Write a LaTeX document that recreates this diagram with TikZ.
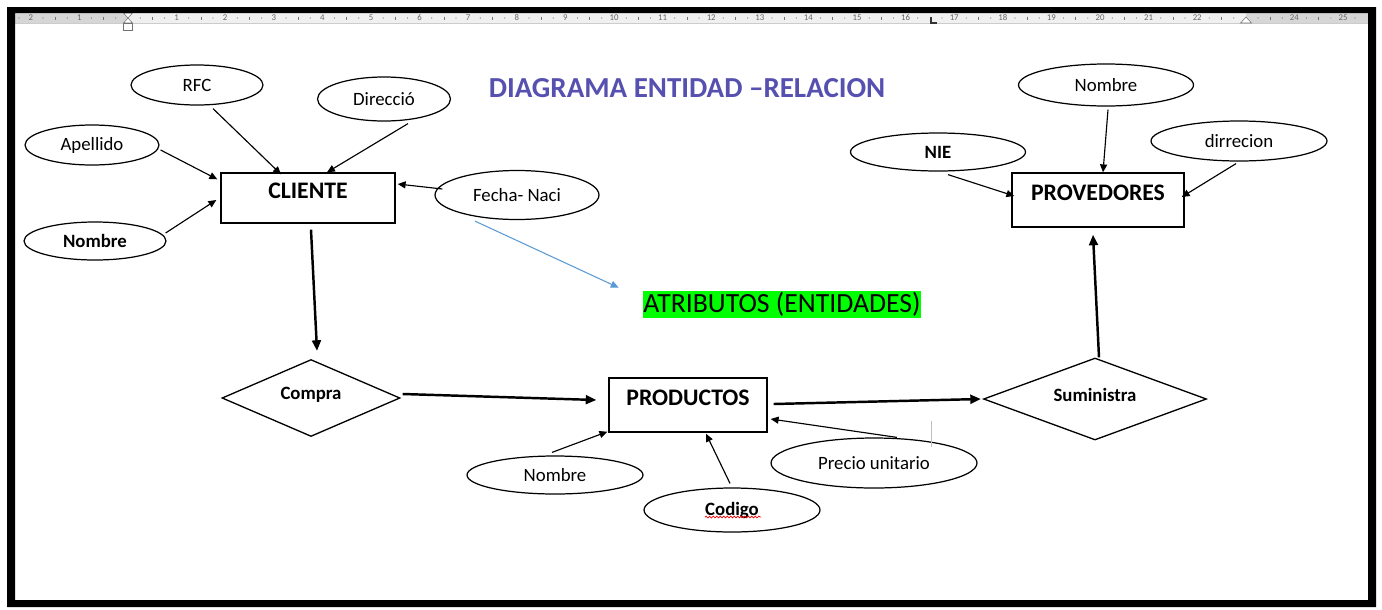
\documentclass[tikz,border=0pt]{standalone}
\usepackage{fontspec}
\setmainfont{Carlito}
\usepackage{tikz}
\usetikzlibrary{calc,positioning,arrows.meta,shapes.geometric,decorations.pathmorphing}
\definecolor{titulo}{RGB}{86,80,176}
\definecolor{azul}{RGB}{91,155,213}
\definecolor{verde}{RGB}{0,255,0}

\begin{document}
\begin{tikzpicture}[x=0.02cm,y=-0.02cm,>={Triangle[length=4.5pt,width=4pt]},
  attr/.style={ellipse,draw,line width=0.7pt,inner sep=0pt,font=\fontsize{10.7}{12}\selectfont},
  attrb/.style={attr,font=\fontsize{10.7}{12}\selectfont\bfseries},
  entidad/.style={rectangle,draw,line width=0.8pt,inner sep=0pt,text depth=8pt,font=\fontsize{13.5}{15}\selectfont\bfseries},
  relacion/.style={diamond,aspect=2.7,draw,line width=0.75pt,inner sep=0pt,text depth=5pt,font=\fontsize{10.7}{12}\selectfont\bfseries},
  flecha/.style={->,line width=0.65pt},
  flechag/.style={-{Triangle[length=6pt,width=5pt]},line width=1.4pt},
  regla/.style={font=\fontsize{5}{5}\selectfont,text=black!60,inner sep=0pt}]
  \useasboundingbox (0,0) rectangle (1382,609);
  \fill[white] (0,0) rectangle (1382,609);

  %%%% ruler
  \fill[black!6] (15,13) rectangle (1368,23);
  \fill[black!16] (15,13) rectangle (128,23);
  \fill[black!16] (1246,13) rectangle (1368,23);
  \draw[black!20,line width=0.3pt] (15,23) -- (1368,23);
  \foreach \n/\m in {-2/2,-1/1}
    \node[regla] (r\m) at ({128+48.6*\n},18) {\m};
  \foreach \n in {1,...,22,24,25}
    \node[regla] (n\n) at ({128+48.6*\n},18) {\n};
  \foreach \n in {-2,...,24} {
    \fill[black!55] ({128+48.6*(\n+0.25)},18) circle (0.35pt);
    \fill[black!55] ({128+48.6*(\n+0.75)},18) circle (0.35pt);
    \draw[black!55,line width=0.3pt] ({128+48.6*(\n+0.5)},16.5) -- ({128+48.6*(\n+0.5)},19.5);
  }
  \fill[black!55] (19,18) circle (0.35pt);
  \fill[black!55] (1355,18) circle (0.35pt);
  % indent markers
  \draw[black!55,fill=white,line width=0.3pt] (123.5,13) -- (132.5,13) -- (128,18) -- cycle;
  \draw[black!55,fill=white,line width=0.3pt] (128,18) -- (123.5,23) -- (132.5,23) -- cycle;
  \draw[black!55,fill=white,line width=0.3pt] (123.5,23) rectangle (132.5,30);
  \draw[black!55,fill=white,line width=0.3pt] (1246,17) -- (1240.5,23) -- (1251.5,23) -- cycle;
  \draw[black!80,line width=0.9pt] (931,17) -- (931,23) -- (937,23);

  %%%% title
  \node[font=\fontsize{16.5}{18}\selectfont\bfseries,text=titulo] (titulo) at (687,88) {DIAGRAMA ENTIDAD --RELACION};

  %%%% entidades
  \node[entidad,minimum width=3.48cm,minimum height=1.0cm] (cliente) at (308,198) {CLIENTE};
  \node[entidad,minimum width=3.44cm,minimum height=1.08cm] (provedores) at (1098,200) {PROVEDORES};
  \node[entidad,minimum width=3.16cm,minimum height=1.08cm] (productos) at (688,405) {PRODUCTOS};

  \node[relacion,minimum width=3.56cm,minimum height=1.54cm] (compra) at (311,398) {Compra};
  \node[relacion,minimum width=4.46cm,minimum height=1.64cm] (suministra) at (1095,399) {Suministra};

  %%%% atributos
  \node[attr,minimum width=2.64cm,minimum height=0.8cm] (rfc) at (197,85) {RFC};
  \node[attr,minimum width=2.66cm,minimum height=0.88cm] (direc) at (384,99) {Direcció};
  \node[attr,minimum width=2.68cm,minimum height=0.8cm] (apellido) at (92,145) {Apellido};
  \node[attrb,minimum width=2.84cm,minimum height=0.76cm] (nombrec) at (95,241) {Nombre};
  \node[attr,minimum width=3.28cm,minimum height=0.98cm] (fecha) at (517,195) {Fecha- Naci};

  \node[attrb,minimum width=3.5cm,minimum height=0.76cm] (nie) at (938,152) {NIE};
  \node[attr,minimum width=3.5cm,minimum height=0.84cm] (nombrep) at (1106,85) {Nombre};
  \node[attr,minimum width=3.52cm,minimum height=0.8cm] (dirrecion) at (1239,141) {dirrecion};

  \node[attr,minimum width=3.52cm,minimum height=0.76cm] (nombrepr) at (555,475) {Nombre};
  \node[attrb,minimum width=3.52cm,minimum height=0.88cm] (codigo) at (732,510) {Codigo};
  \node[attr,minimum width=4.12cm,minimum height=1.0cm] (precio) at (874,463) {Precio unitario};

  \node[fill=verde,inner sep=0pt,minimum width=5.56cm,minimum height=0.54cm,font=\fontsize{15.8}{17}\selectfont] (atributos) at (782,304.5) {ATRIBUTOS (ENTIDADES)};

  %%%% flechas a CLIENTE
  \draw[flecha] ($(rfc.south)+(16,3)$) -- ($(cliente.north)+(-27,2)$);
  \draw[flecha] ($(direc.south)+(24,2)$) -- ($(cliente.north)+(19,0)$);
  \draw[flecha] ($(apellido.east)+(1,5)$) -- ($(cliente.north west)+(-3,7)$);
  \draw[flecha] ($(nombrec.east)+(-1,-8)$) -- ($(cliente.west)+(-4,2)$);
  \draw[flecha] ($(fecha.west)+(8,-6)$) -- ($(cliente.east)+(2,-14)$);
  \draw[->,azul,line width=0.6pt] ($(fecha.south)+(-42,1)$) -- ($(atributos.north west)+(-24,-3)$);

  %%%% flechas a PROVEDORES
  \draw[flecha] ($(nie.south)+(10,3)$) -- ($(provedores.west)+(3,-4)$);
  \draw[flecha] ($(nombrep.south)+(2,3)$) -- ($(provedores.north)+(5,0)$);
  \draw[flecha] ($(dirrecion.south)+(-3,2)$) -- ($(provedores.east)+(-3,-3)$);

  %%%% flechas a PRODUCTOS
  \draw[flecha] ($(nombrepr.north)+(-3,-3)$) -- ($(productos.south west)+(-1,-1)$);
  \draw[flecha] ($(codigo.north)+(-2,-4)$) -- ($(productos.south)+(18,1)$);
  \draw[flecha] ($(precio.north)+(23,0)$) -- ($(productos.east)+(3,14)$);
  \draw[black!25,line width=0.4pt] ($(precio.north)+(57,-16)$) -- ($(precio.north)+(57,10)$);
  \draw[red,line width=0.4pt,decorate,decoration={snake,amplitude=0.5pt,segment length=2pt}] ($(codigo)+(-27,7)$) -- ($(codigo)+(29,7)$);

  %%%% relaciones
  \draw[flechag] ($(cliente.south)+(3,6)$) -- ($(compra.north)+(6,-8)$);
  \draw[flechag] ($(compra.east)+(2,-4)$) -- ($(productos.west)+(-12,-5)$);
  \draw[flechag] ($(productos.east)+(6,-1)$) -- ($(suministra.west)+(-2,0)$);
  \draw[flechag] ($(suministra.north)+(4,0)$) -- ($(provedores.south)+(-5,7)$);

  %%%% marco
  \fill[black,even odd rule] (7,7) rectangle (1376,607) (15,13) rectangle (1368,600);
\end{tikzpicture}
\end{document}
